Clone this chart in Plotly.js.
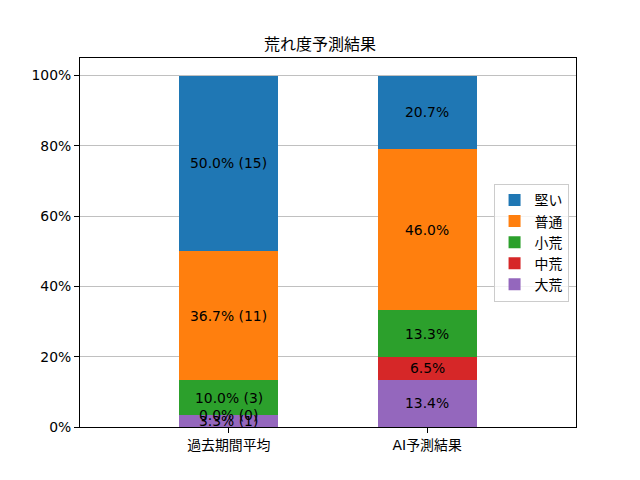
<!DOCTYPE html>
<html><head><meta charset="utf-8">
<script src="https://cdn.plot.ly/plotly-3.0.1.min.js"></script>
<style>html,body{margin:0;padding:0;background:#fff}#c{width:640px;height:480px}</style>
</head><body><div id="c"></div>
<script>
const categories = ['過去期間平均', 'AI予測結果'];
const seriesNames = ['大荒', '中荒', '小荒', '普通', '堅い'];
const colors = ['#9467bd', '#d62728', '#2ca02c', '#ff7f0e', '#1f77b4'];
const daiare = [3.3, 13.4];
const chuare = [0.0, 6.5];
const shoare = [10.0, 13.3];
const futsu = [36.7, 46.0];
const katai = [50.0, 20.7];
const pastCounts = [1, 0, 3, 11, 15];
const yTicks = [0, 20, 40, 60, 80, 100];
const yTickLabels = ['0%', '20%', '40%', '60%', '80%', '100%'];

const series = [daiare, chuare, shoare, futsu, katai];
const font = 'DejaVu Sans, Noto Sans CJK JP, sans-serif';

const traces = series.map((vals, i) => ({
  type: 'bar', x: [0, 1], y: vals, name: seriesNames[i],
  marker: {color: colors[i], line: {width: 0}}, width: 0.5,
  hoverinfo: 'skip'
}));

const annotations = [];
[0, 1].forEach(ci => {
  let cum = 0;
  series.forEach((vals, si) => {
    const v = vals[ci];
    const txt = ci === 0 ? v.toFixed(1) + '% (' + pastCounts[si] + ')' : v.toFixed(1) + '%';
    annotations.push({x: ci, y: cum + v / 2, xref: 'x', yref: 'y', text: txt,
      showarrow: false, font: {family: font, size: 13.9, color: '#000'}});
    cum += v;
  });
});

const layout = {
  width: 640, height: 480,
  margin: {l: 80, r: 64, t: 57.6, b: 52.8},
  paper_bgcolor: '#fff', plot_bgcolor: '#fff',
  barmode: 'stack', bargap: 0,
  title: {text: '荒れ度予測結果', font: {family: font, size: 16, color: '#000'}, x: 0.5, xanchor: 'center', y: 1 - 44/480, yanchor: 'middle'},
  xaxis: {range: [-0.75, 1.75], tickmode: 'array', tickvals: [0, 1], ticktext: categories,
    showgrid: false, zeroline: false, showline: true, mirror: true, linecolor: '#000', linewidth: 1,
    ticks: 'outside', ticklen: 5, tickcolor: '#000', tickfont: {family: font, size: 13.9, color: '#000'}},
  yaxis: {range: [0, 105], tickmode: 'array', tickvals: yTicks, ticktext: yTickLabels,
    showgrid: true, gridcolor: '#b0b0b0', gridwidth: 0.8, zeroline: false,
    showline: true, mirror: true, linecolor: '#000', linewidth: 1,
    ticks: 'outside', ticklen: 5, tickcolor: '#000', tickfont: {family: font, size: 13.9, color: '#000'}},
  legend: {x: 0.985, xanchor: 'right', y: 0.5, yanchor: 'middle', traceorder: 'reversed',
    bgcolor: 'rgba(255,255,255,0.8)', bordercolor: '#cccccc', borderwidth: 1,
    font: {family: font, size: 13.9, color: '#000'}, itemwidth: 30, tracegroupgap: 0},
  annotations: annotations,
  showlegend: true
};

Plotly.newPlot('c', traces, layout, {staticPlot: true, displayModeBar: false});
</script></body></html>
